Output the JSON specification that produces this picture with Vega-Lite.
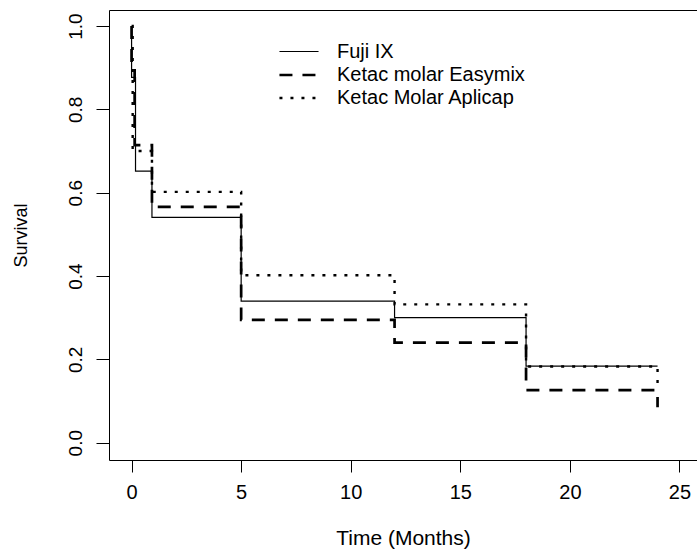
{
  "$schema": "https://vega.github.io/schema/vega-lite/v6.json",
  "width": 588,
  "height": 450,
  "autosize": {"type": "none"},
  "padding": {"left": 109, "top": 10, "right": 0, "bottom": 92},
  "background": "white",
  "config": {
    "view": {"stroke": "black", "strokeWidth": 1},
    "font": "Liberation Sans"
  },
  "data": {
    "values": [
      {"g": "Fuji IX", "i": 0, "t": 0, "s": 1.0},
      {"g": "Fuji IX", "i": 1, "t": 0, "s": 0.877},
      {"g": "Fuji IX", "i": 2, "t": 0.18, "s": 0.652},
      {"g": "Fuji IX", "i": 3, "t": 0.93, "s": 0.541},
      {"g": "Fuji IX", "i": 4, "t": 5, "s": 0.34},
      {"g": "Fuji IX", "i": 5, "t": 12, "s": 0.3},
      {"g": "Fuji IX", "i": 6, "t": 18, "s": 0.184},
      {"g": "Fuji IX", "i": 7, "t": 24, "s": 0.184},
      {"g": "Ketac molar Easymix", "i": 0, "t": 0, "s": 1.0},
      {"g": "Ketac molar Easymix", "i": 1, "t": 0, "s": 0.909},
      {"g": "Ketac molar Easymix", "i": 2, "t": 0.14, "s": 0.714},
      {"g": "Ketac molar Easymix", "i": 3, "t": 0.93, "s": 0.566},
      {"g": "Ketac molar Easymix", "i": 4, "t": 5, "s": 0.295},
      {"g": "Ketac molar Easymix", "i": 5, "t": 12, "s": 0.24},
      {"g": "Ketac molar Easymix", "i": 6, "t": 18, "s": 0.126},
      {"g": "Ketac molar Easymix", "i": 7, "t": 24, "s": 0.085},
      {"g": "Ketac Molar Aplicap", "i": 0, "t": 0, "s": 1.0},
      {"g": "Ketac Molar Aplicap", "i": 1, "t": 0.05, "s": 0.7},
      {"g": "Ketac Molar Aplicap", "i": 2, "t": 0.93, "s": 0.602},
      {"g": "Ketac Molar Aplicap", "i": 3, "t": 5, "s": 0.402},
      {"g": "Ketac Molar Aplicap", "i": 4, "t": 12, "s": 0.332},
      {"g": "Ketac Molar Aplicap", "i": 5, "t": 18, "s": 0.183},
      {"g": "Ketac Molar Aplicap", "i": 6, "t": 24, "s": 0.135}
    ]
  },
  "mark": {"type": "line", "interpolate": "step-after", "color": "black", "clip": true},
  "encoding": {
    "x": {
      "field": "t",
      "type": "quantitative",
      "scale": {"domain": [-1.03, 25.8], "nice": false, "zero": false},
      "axis": {
        "values": [0, 5, 10, 15, 20, 25],
        "title": "Time (Months)",
        "grid": false,
        "domain": false,
        "tickSize": 12,
        "tickColor": "black",
        "labelFontSize": 20,
        "labelColor": "black",
        "labelPadding": 10,
        "labelFont": "Liberation Sans",
        "titleFont": "Liberation Sans",
        "titleFontSize": 21,
        "titleFontWeight": "normal",
        "titleColor": "black",
        "titlePadding": 25
      }
    },
    "y": {
      "field": "s",
      "type": "quantitative",
      "scale": {"domain": [-0.0415, 1.0385], "nice": false, "zero": false},
      "axis": {
        "values": [0, 0.2, 0.4, 0.6, 0.8, 1.0],
        "format": ".1f",
        "title": "Survival",
        "grid": false,
        "domain": false,
        "tickSize": 13,
        "tickColor": "black",
        "labelAngle": -90,
        "labelAlign": "center",
        "labelBaseline": "alphabetic",
        "labelFontSize": 19,
        "labelColor": "black",
        "labelPadding": 15,
        "labelFont": "Liberation Sans",
        "titleFont": "Liberation Sans",
        "titleFontSize": 18,
        "titleFontWeight": "normal",
        "titleColor": "black",
        "titlePadding": 36
      }
    },
    "order": {"field": "i", "type": "quantitative"},
    "strokeDash": {
      "field": "g",
      "type": "nominal",
      "scale": {
        "domain": ["Fuji IX", "Ketac molar Easymix", "Ketac Molar Aplicap"],
        "range": [[1, 0], [13, 10], [3, 8]]
      },
      "legend": {
        "title": null,
        "orient": "none",
        "legendX": 177,
        "legendY": 29,
        "padding": 0,
        "symbolType": "M-1.7,0H1.7",
        "symbolSize": 529,
        "symbolStrokeColor": "black",
        "labelFont": "Liberation Sans",
        "labelFontSize": 20,
        "labelColor": "black",
        "labelOffset": 25,
        "labelLimit": 0,
        "rowPadding": -1
      }
    },
    "strokeWidth": {
      "field": "g",
      "type": "nominal",
      "scale": {
        "type": "ordinal",
        "domain": ["Fuji IX", "Ketac molar Easymix", "Ketac Molar Aplicap"],
        "range": [1.2, 2.7, 2.4]
      },
      "legend": {
        "title": null,
        "orient": "none",
        "legendX": 177,
        "legendY": 29,
        "padding": 0,
        "symbolType": "M-1.7,0H1.7",
        "symbolSize": 529,
        "symbolStrokeColor": "black",
        "labelFont": "Liberation Sans",
        "labelFontSize": 20,
        "labelColor": "black",
        "labelOffset": 25,
        "labelLimit": 0,
        "rowPadding": -1
      }
    }
  }
}
